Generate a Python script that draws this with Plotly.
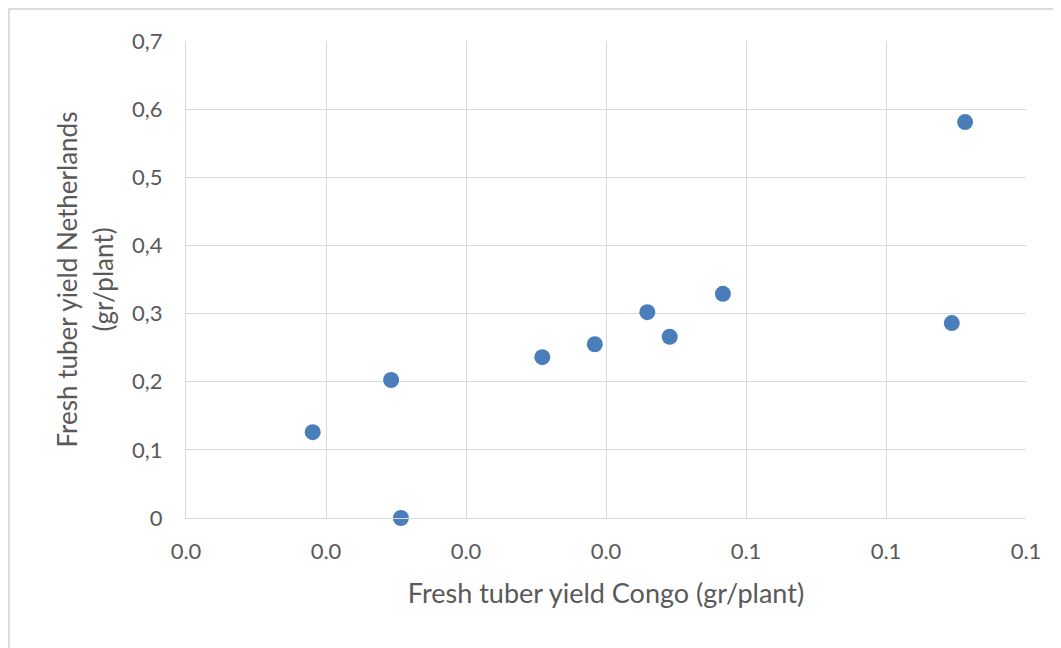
import plotly.graph_objects as go

# Data
congo_yield = [0.0181, 0.0293, 0.0307, 0.0509, 0.0584, 0.0659, 0.0691, 0.0767, 0.1094, 0.1113]
netherlands_yield = [0.126, 0.2025, 0.0, 0.236, 0.255, 0.302, 0.266, 0.329, 0.286, 0.581]

x_tick_vals = [0, 0.02, 0.04, 0.06, 0.08, 0.10, 0.12]
x_tick_text = ["0.0", "0.0", "0.0", "0.0", "0.1", "0.1", "0.1"]
y_tick_vals = [0, 0.1, 0.2, 0.3, 0.4, 0.5, 0.6, 0.7]
y_tick_text = ["0", "0,1", "0,2", "0,3", "0,4", "0,5", "0,6", "0,7"]
y_title_lines = ["Fresh tuber yield Netherlands", "(gr/plant)"]

FONT = "Lato"
TXT = "#595959"
GRID = "#d9d9d9"

fig = go.Figure()
fig.add_trace(go.Scatter(
    x=congo_yield, y=netherlands_yield, mode="markers",
    marker=dict(size=16, color="#4a7ebb"),
    showlegend=False, cliponaxis=False,
))

annotations = []
for line_text, xpos in zip(y_title_lines, [-0.1417, -0.1]):
    annotations.append(dict(
        text=line_text, xref="paper", yref="paper", x=xpos, y=0.5,
        xanchor="center", yanchor="middle", textangle=-90,
        showarrow=False, font=dict(size=26, color=TXT),
    ))

fig.update_layout(
    width=1061, height=648,
    margin=dict(l=178, r=43, t=33, b=138),
    paper_bgcolor="white", plot_bgcolor="white",
    font=dict(family=FONT, color=TXT),
    xaxis=dict(
        range=[0, 0.12], tickvals=x_tick_vals, ticktext=x_tick_text,
        showgrid=True, gridcolor=GRID, gridwidth=1,
        zeroline=False, showline=True, linecolor=GRID, mirror=False,
        tickfont=dict(size=22, color=TXT), ticklabelstandoff=14,
        title=dict(text="Fresh tuber yield Congo (gr/plant)",
                   font=dict(size=27, color=TXT), standoff=20),
    ),
    yaxis=dict(
        range=[0, 0.7], tickvals=y_tick_vals, ticktext=y_tick_text,
        showgrid=True, gridcolor=GRID, gridwidth=1,
        zeroline=False, showline=True, linecolor=GRID,
        tickfont=dict(size=22, color=TXT), ticklabelstandoff=18,
    ),
    annotations=annotations,
    shapes=[dict(
        type="rect", xref="paper", yref="paper",
        x0=-0.2107, x1=1.08, y0=-0.35, y1=1.067,
        line=dict(color="#d0d0d0", width=1.5), layer="below",
    )],
)

fig.write_html("out.html")
